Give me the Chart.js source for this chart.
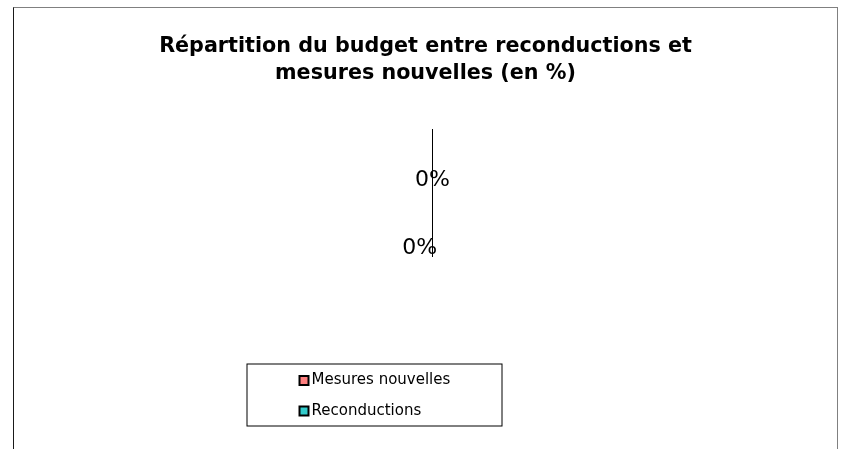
<!DOCTYPE html>
<html>
<head>
<meta charset="utf-8">
<script src="https://cdn.jsdelivr.net/npm/chart.js@4.4.1/dist/chart.umd.min.js"></script>
<style>
  html, body { margin: 0; padding: 0; background: #ffffff; overflow: hidden; }
  #wrap { position: relative; width: 847px; height: 449px; }
  #c { position: absolute; left: 0; top: 0; }
  #frame {
    position: absolute; left: 13px; top: 7px; width: 825px; height: 470px;
    box-sizing: border-box; pointer-events: none;
    border-top: 1px solid #808080; border-right: 1px solid #808080; border-left: 1px solid #1a1a1a;
  }
</style>
</head>
<body>
<div id="wrap">
  <canvas id="c" width="847" height="449"></canvas>
  <div id="frame"></div>
</div>
<script>
// ---- data ----
const titleLines = ['Répartition du budget entre reconductions et', 'mesures nouvelles (en %)'];
const categories = ['Mesures nouvelles', 'Reconductions'];
const values = [0, 0];
const sliceColors = ['#FF8080', '#33CCCC'];

// ---- styles ----
const labelOffsets = [[0.0, -0.6], [-0.1, -0.065]]; // label position relative to pie centre, in radii
const legendPos = { left: 288.5, top: 357.5 };

const zeroSlicePlugin = {
  id: 'zeroSlice',
  afterDatasetsDraw(chart) {
    const ctx = chart.ctx;
    const meta = chart.getDatasetMeta(0);
    const ds = chart.data.datasets[0];
    const total = ds.data.reduce((a, b) => a + b, 0);
    ctx.save();
    // radial edges of empty slices
    meta.data.forEach((arc) => {
      const p = arc.getProps(['x', 'y', 'outerRadius', 'startAngle', 'circumference'], true);
      if (p.circumference === 0) {
        ctx.beginPath();
        ctx.strokeStyle = '#000000';
        ctx.lineWidth = 1;
        ctx.moveTo(p.x, p.y);
        ctx.lineTo(p.x + Math.cos(p.startAngle) * p.outerRadius, p.y + Math.sin(p.startAngle) * p.outerRadius);
        ctx.stroke();
      }
    });
    // percentage labels
    ctx.fillStyle = '#000000';
    ctx.font = '22px "DejaVu Sans"';
    ctx.textAlign = 'center';
    ctx.textBaseline = 'middle';
    meta.data.forEach((arc, i) => {
      const p = arc.getProps(['x', 'y', 'outerRadius'], true);
      const v = ds.data[i];
      const pct = total > 0 ? Math.round(v / total * 100) : 0;
      const off = labelOffsets[i] || [0, 0];
      ctx.fillText(pct + '%', p.x + off[0] * p.outerRadius, p.y + off[1] * p.outerRadius);
    });
    ctx.restore();
  }
};

const legendPlacePlugin = {
  id: 'legendPlace',
  afterLayout(chart) {
    const lg = chart.legend;
    if (!lg) return;
    lg.left = legendPos.left;
    lg.top = legendPos.top;
    lg.right = lg.left + 250;
    lg.bottom = lg.top + 90;
  },
  afterDraw(chart) {
    const lg = chart.legend;
    if (!lg) return;
    const ctx = chart.ctx;
    ctx.save();
    ctx.strokeStyle = '#000000';
    ctx.lineWidth = 1;
    ctx.strokeRect(lg.left - 41.5, lg.top + 6.5, 255, 62);
    ctx.restore();
  }
};

new Chart(document.getElementById('c'), {
  type: 'pie',
  data: {
    labels: categories,
    datasets: [{
      data: values,
      backgroundColor: sliceColors,
      borderColor: '#000000',
      borderWidth: 2,
      borderAlign: 'inner'
    }]
  },
  options: {
    responsive: false,
    animation: false,
    devicePixelRatio: 1,
    events: [],
    color: '#000000',
    layout: { padding: { left: 4, right: 0, top: 0, bottom: 64 } },
    plugins: {
      title: {
        display: true,
        text: titleLines,
        color: '#000000',
        font: { family: '"DejaVu Sans"', size: 20.7, weight: 'bold', lineHeight: '27px' },
        padding: { top: 33, bottom: 42 }
      },
      subtitle: {
        display: true,
        text: '',
        position: 'left',
        fullSize: false,
        font: { size: 1, lineHeight: 1 },
        padding: { top: 6.5, bottom: 6.5, left: 0, right: 0 }
      },
      legend: {
        display: true,
        position: 'chartArea',
        fullSize: false,
        align: 'start',
        labels: {
          color: '#000000',
          font: { family: '"DejaVu Sans"', size: 15 },
          usePointStyle: true,
          pointStyle: 'rect',
          boxWidth: 0.01,
          boxHeight: 9,
          padding: 15.5
        }
      },
      tooltip: { enabled: false }
    }
  },
  plugins: [zeroSlicePlugin, legendPlacePlugin]
});
</script>
</body>
</html>
